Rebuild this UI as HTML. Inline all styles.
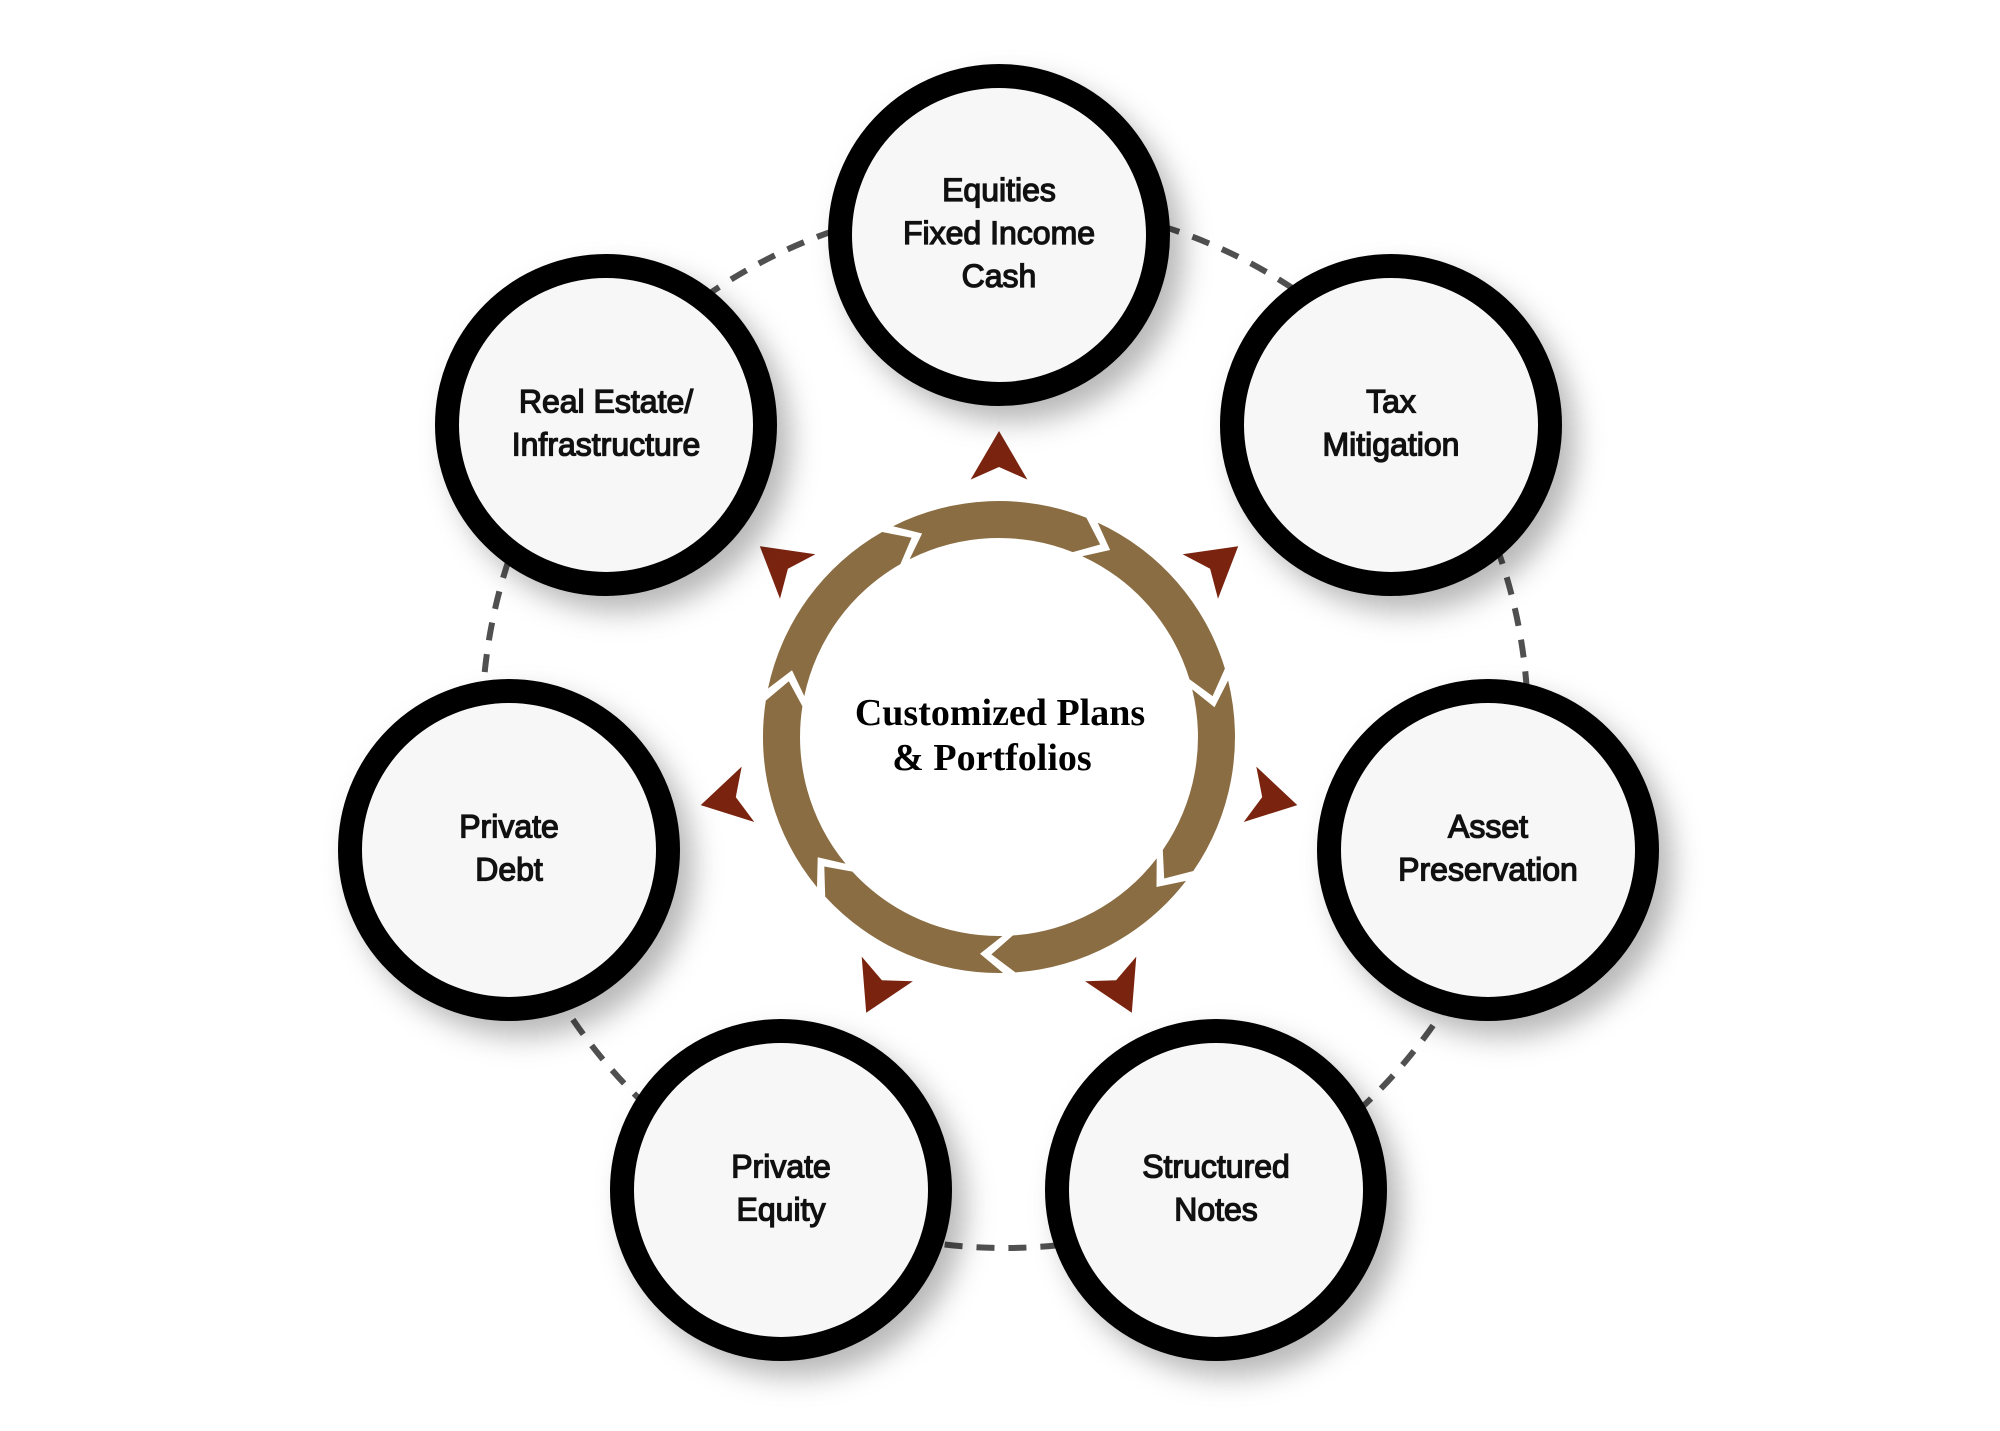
<!DOCTYPE html>
<html><head><meta charset="utf-8"><style>
html,body{margin:0;padding:0;background:#fff;}
svg{display:block;}
</style></head><body>
<svg width="2000" height="1431" viewBox="0 0 2000 1431" xmlns="http://www.w3.org/2000/svg">
<defs>
<filter id="sh" x="-30%" y="-30%" width="170%" height="170%">
<feDropShadow dx="14" dy="16" stdDeviation="14" flood-color="#000" flood-opacity="0.28"/>
</filter>
</defs>
<rect width="2000" height="1431" fill="#fff"/>
<circle cx="1005" cy="725" r="523" fill="none" stroke="#505050" stroke-width="6" stroke-dasharray="18 14"/>
<g id="ring"></g>
<g id="tris"></g>
<g font-family="'Liberation Sans', sans-serif" font-size="32" text-anchor="middle" fill="#111" stroke="#111" stroke-width="1.3">
<g id="nodes"></g>
</g>
<g font-family="'Liberation Serif', serif" font-weight="bold" font-size="38" text-anchor="middle" fill="#000">
<text x="1000" y="725">Customized Plans</text>
<text x="992" y="770">&amp;  Portfolios</text>
</g>
<script>
(function(){
var NS="http://www.w3.org/2000/svg",cx=999,cy=737;
function P(r,a){a=a*Math.PI/180;return (cx+r*Math.sin(a)).toFixed(1)+","+(cy-r*Math.cos(a)).toFixed(1);}
var ring=document.getElementById("ring"),Ro=236,Ri=199,Rm=217.5,step=360/7;
for(var k=0;k<7;k++){
 var g0=-25.7+k*step,g1=g0+step;
 var t0=g0-1,n0=g0+5,h1=g1-4,tip=g1+2;
 var d="M"+P(Ro,t0)+" A"+Ro+","+Ro+" 0 0 1 "+P(Ro,h1)+" L"+P(Rm,tip)+" L"+P(Ri,h1)+" A"+Ri+","+Ri+" 0 0 0 "+P(Ri,t0)+" L"+P(Rm,n0)+" Z";
 var p=document.createElementNS(NS,"path");p.setAttribute("d",d);p.setAttribute("fill","#8a6d43");ring.appendChild(p);
}
var tris=document.getElementById("tris");
for(var k=0;k<7;k++){
 var a=k*step;
 var d="M"+P(306,a)+" L"+P(259,a+6.3)+" L"+P(270,a)+" L"+P(259,a-6.3)+" Z";
 var p=document.createElementNS(NS,"path");p.setAttribute("d",d);p.setAttribute("fill","#7a2410");tris.appendChild(p);
}
var nodes=[[999,235,["Equities","Fixed Income","Cash"]],[1391,425,["Tax","Mitigation"]],[1488,850,["Asset","Preservation"]],[1216,1190,["Structured","Notes"]],[781,1190,["Private","Equity"]],[509,850,["Private","Debt"]],[606,425,["Real Estate/","Infrastructure"]]];
var ng=document.getElementById("nodes");
nodes.forEach(function(n){
 var c=document.createElementNS(NS,"circle");
 c.setAttribute("cx",n[0]);c.setAttribute("cy",n[1]);c.setAttribute("r",159);
 c.setAttribute("fill","#f7f7f7");c.setAttribute("stroke","#000");c.setAttribute("stroke-width",24);c.setAttribute("filter","url(#sh)");
 ng.appendChild(c);
 var L=n[2],sp=43,y0=n[1]-(L.length-1)*sp/2;
 L.forEach(function(s,i){
  var t=document.createElementNS(NS,"text");t.setAttribute("x",n[0]);t.setAttribute("y",y0+i*sp+9);t.textContent=s;ng.appendChild(t);
 });
});
})();
</script>
</svg>
</body></html>
